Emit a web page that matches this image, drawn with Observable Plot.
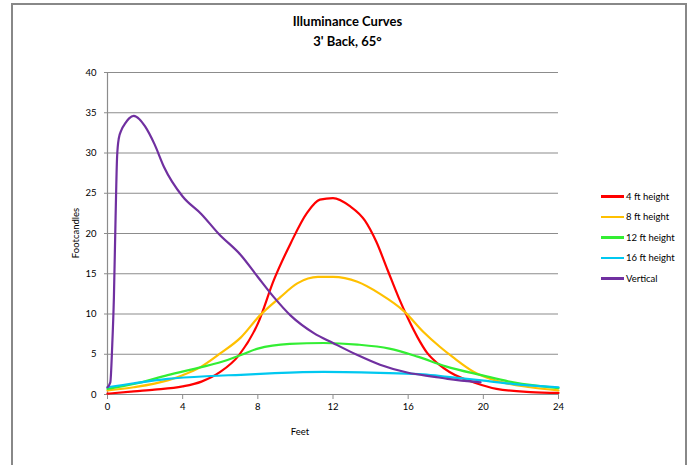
<!DOCTYPE html>
<html>
<head>
<meta charset="utf-8">
<script src="https://cdn.jsdelivr.net/npm/d3@7"></script>
<script src="https://cdn.jsdelivr.net/npm/@observablehq/plot@0.6"></script>
<style>
  html, body { margin: 0; padding: 0; background: #fff; }
  #wrap { position: relative; width: 695px; height: 465px; overflow: hidden; font-family: Lato, "Liberation Sans", sans-serif; color: #000; }
  #frame { position: absolute; left: 11px; top: 3px; width: 676px; height: 480px; border: 2px solid #888; border-bottom: none; box-sizing: border-box; }
  #chart { position: absolute; left: 0; top: 0; }
  .title { position: absolute; left: 0; width: 695px; text-align: center; font-weight: bold; font-size: 13px; line-height: 13px; }
  .xlabel { position: absolute; top: 426px; left: 280px; width: 40px; text-align: center; font-size: 9.5px; }
  .ylabel { position: absolute; left: 75px; top: 233px; transform: translate(-50%, -50%) rotate(-90deg); font-size: 9.5px; white-space: nowrap; }
  .legend { position: absolute; left: 601px; top: 186px; font-size: 9.5px; }
  .legend .row { display: flex; align-items: center; height: 20.5px; }
  .legend .sw { width: 23px; height: 2.5px; margin-right: 2px; }
</style>
</head>
<body>
<div id="wrap">
  <div id="frame"></div>
  <div id="chart"></div>
  <div class="title" style="top:15px">Illuminance Curves</div>
  <div class="title" style="top:35px">3' Back, 65°</div>
  <div class="xlabel">Feet</div>
  <div class="ylabel">Footcandles</div>
  <div class="legend" id="legend"></div>
</div>
<script>
// ---- data ----
const seriesNames = ["4 ft height", "8 ft height", "12 ft height", "16 ft height", "Vertical"];
const seriesColors = ["#ff0000", "#ffc000", "#33ee33", "#00c8f0", "#7030a0"];

const feet4 = [0, 1.4, 2.5, 4, 5, 6, 7, 8, 8.85, 9.75, 10.6, 11.3, 12, 12.9, 13.7, 14.3, 14.9, 15.5, 16, 16.5, 17, 17.6, 18.2, 18.8, 19.5, 20.7, 22.5, 24];
const fc4   = [0.1, 0.4, 0.6, 1.0, 1.6, 2.8, 4.9, 8.8, 14.2, 18.8, 22.5, 24.2, 24.4, 23.4, 21.6, 19.0, 15.5, 12.0, 9.4, 7.1, 5.2, 3.8, 2.8, 2.1, 1.5, 0.7, 0.3, 0.2];

const feet8 = [0, 1.4, 3.2, 4, 4.95, 6, 7.1, 8.1, 9.2, 10.1, 11.2, 12, 13.3, 14.5, 15.8, 16.8, 17.7, 18.4, 19.5, 20.7, 22.5, 24];
const fc8   = [0.5, 0.9, 1.75, 2.4, 3.4, 5.1, 7.1, 9.8, 12.1, 13.8, 14.6, 14.6, 14.0, 12.5, 10.3, 7.8, 5.9, 4.6, 2.8, 1.7, 0.9, 0.5];

const feet12 = [0, 1.4, 3.2, 5, 6, 7.1, 8, 9.7, 11.5, 13.3, 15, 16.5, 18, 19.9, 21.6, 24];
const fc12   = [0.7, 1.3, 2.4, 3.4, 4.0, 4.9, 5.7, 6.3, 6.4, 6.2, 5.7, 4.7, 3.5, 2.4, 1.5, 0.8];

const feet16 = [0, 1.4, 3.2, 5.5, 7.1, 8.9, 11.5, 15, 16.8, 18.1, 19.9, 21.6, 24];
const fc16   = [0.9, 1.4, 1.95, 2.3, 2.45, 2.65, 2.8, 2.65, 2.5, 2.2, 1.75, 1.3, 0.9];

const feetV = [0, 0.15, 0.25, 0.34, 0.43, 0.51, 0.6, 0.75, 0.95, 1.15, 1.4, 1.7, 2.0, 2.5, 3.0, 4.0, 5.0, 5.9, 7.1, 8.0, 8.85, 9.75, 11, 12, 13.3, 14.5, 16, 17.4, 18.1, 19.85];
const fcV   = [0.9, 1.5, 6, 12, 22, 29.5, 31.8, 32.9, 33.7, 34.3, 34.6, 34.2, 33.3, 31.1, 28.3, 24.6, 22.4, 20, 17.3, 14.6, 12.1, 9.8, 7.6, 6.4, 4.9, 3.7, 2.7, 2.2, 1.95, 1.5];

const xTicks = [0, 4, 8, 12, 16, 20, 24];
const yTicks = [0, 5, 10, 15, 20, 25, 30, 35, 40];

// ---- build table ----
const xs = [feet4, feet8, feet12, feet16, feetV];
const ys = [fc4, fc8, fc12, fc16, fcV];
const rows = [];
seriesNames.forEach((name, i) => xs[i].forEach((x, j) => rows.push({series: name, feet: x, fc: ys[i][j]})));

const grid = "#8c8c8c";
const chart = Plot.plot({
  width: 695,
  height: 465,
  marginLeft: 107,
  marginRight: 137,
  marginTop: 72,
  marginBottom: 71,
  style: {fontFamily: "Lato, 'Liberation Sans', sans-serif", fontSize: "9.5px", color: "#000", background: "transparent"},
  x: {domain: [0, 24]},
  y: {domain: [0, 40]},
  color: {domain: seriesNames, range: seriesColors},
  marks: [
    Plot.gridY(yTicks, {stroke: grid, strokeOpacity: 1, strokeWidth: 1.2}),
    Plot.ruleX([0], {stroke: grid, strokeWidth: 1.2}),
    Plot.ruleY([0], {stroke: grid, strokeWidth: 1.2}),
    Plot.axisX(xTicks, {tickSize: 5, tickPadding: 4, label: null, stroke: grid, fill: "#000"}),
    Plot.axisY(yTicks, {tickSize: 3, tickPadding: 8, label: null, stroke: grid, fill: "#000"}),
    Plot.line(rows, {x: "feet", y: "fc", z: "series", stroke: "series", strokeWidth: 2.2, curve: "monotone-x"})
  ]
});
document.getElementById("chart").appendChild(chart);

// legend
const leg = document.getElementById("legend");
seriesNames.forEach((n, i) => {
  const r = document.createElement("div");
  r.className = "row";
  r.innerHTML = `<div class="sw" style="background:${seriesColors[i]}"></div><span>${n}</span>`;
  leg.appendChild(r);
});
</script>
</body>
</html>
